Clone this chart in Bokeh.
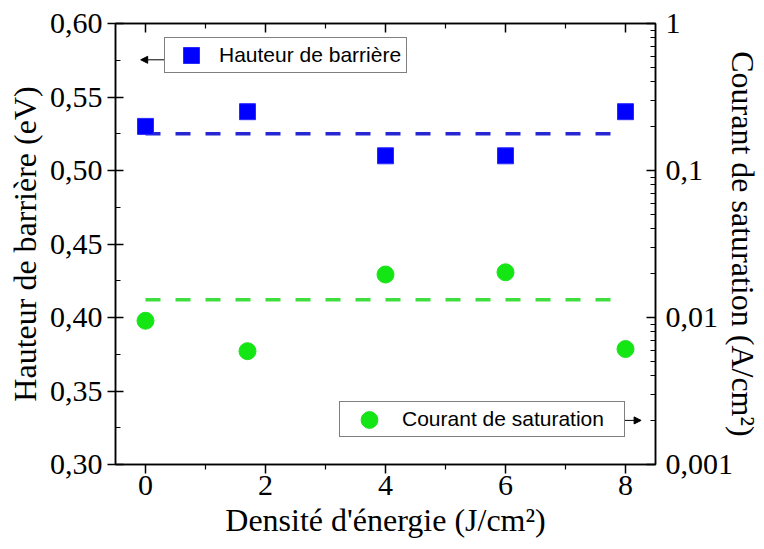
from bokeh.plotting import figure
from bokeh.models import (Range1d, LinearAxis, LogAxis, LogScale, FixedTicker, Legend,
                          LegendItem, Arrow, NormalHead)
from bokeh.embed import file_html
from bokeh.resources import INLINE

# ---- data ----
energy = [0, 1.7, 4, 6, 8]                               # J/cm²
barrier_height = [0.53, 0.54, 0.51, 0.51, 0.54]          # eV (left axis)
saturation_current = [0.0095, 0.0059, 0.0196, 0.0203, 0.0061]  # A/cm² (right log axis)
barrier_mean = 0.525
current_mean = 0.0132

x_ticks = [0, 2, 4, 6, 8]
x_minor = [1, 3, 5, 7]
left_ticks = [0.30, 0.35, 0.40, 0.45, 0.50, 0.55, 0.60]
left_labels = ["0,30", "0,35", "0,40", "0,45", "0,50", "0,55", "0,60"]
left_minor = [0.325, 0.375, 0.425, 0.475, 0.525, 0.575]
right_ticks = [0.001, 0.01, 0.1, 1]
right_labels = ["0,001", "0,01", "0,1", "1"]
right_minor = [m * d for d in (0.001, 0.01, 0.1) for m in range(2, 10)]

SERIF = "Liberation Serif"
SANS = "Liberation Sans"

p = figure(width=764, height=549, x_range=Range1d(-0.5, 8.5), y_range=Range1d(0.30, 0.60),
           output_backend="svg", toolbar_location=None,
           min_border_left=115, min_border_right=102, min_border_top=23, min_border_bottom=85)
p.extra_y_ranges = {"log": Range1d(0.001, 1)}
p.extra_y_scales = {"log": LogScale()}
p.grid.visible = False
p.outline_line_color = "black"
p.outline_line_width = 1.5
p.background_fill_color = "white"
p.border_fill_color = "white"

def style(ax):
    ax.axis_line_color = "black"
    ax.axis_line_width = 1.5
    ax.major_tick_line_width = 1.5
    ax.minor_tick_line_width = 1.2
    ax.major_tick_line_color = "black"
    ax.minor_tick_line_color = "black"
    ax.major_label_text_font = SERIF
    ax.major_label_text_font_size = "30px"
    ax.major_label_text_color = "black"
    ax.axis_label_text_font = SERIF
    ax.axis_label_text_font_size = "32px"
    ax.axis_label_text_font_style = "normal"
    ax.axis_label_text_color = "black"

# bottom axis
xa = p.xaxis[0]
style(xa)
xa.ticker = FixedTicker(ticks=x_ticks, minor_ticks=x_minor)
xa.axis_label = "Densité d'énergie (J/cm²)"
xa.major_tick_out = 9
xa.major_tick_in = 0
xa.minor_tick_out = 5
xa.minor_tick_in = 0
xa.major_label_standoff = 2
xa.axis_label_standoff = 4

# left axis
ya = p.yaxis[0]
style(ya)
ya.ticker = FixedTicker(ticks=left_ticks, minor_ticks=left_minor)
ya.major_label_overrides = dict(zip(left_ticks, left_labels))
ya.axis_label = "Hauteur de barrière (eV)"
ya.major_tick_out = 8
ya.major_tick_in = 8
ya.minor_tick_out = 0
ya.minor_tick_in = 5
ya.major_label_standoff = 5
ya.axis_label_standoff = 4

# top mirror axis (ticks only)
ta = LinearAxis(ticker=FixedTicker(ticks=x_ticks, minor_ticks=x_minor),
                major_label_overrides={t: "" for t in x_ticks})
style(ta)
ta.major_label_text_font_size = "0px"
ta.major_label_standoff = 0
ta.major_tick_in = 9
ta.major_tick_out = 0
ta.minor_tick_in = 5
ta.minor_tick_out = 0
p.add_layout(ta, "above")

# right log axis
ra = LogAxis(y_range_name="log", ticker=FixedTicker(ticks=right_ticks, minor_ticks=right_minor))
style(ra)
ra.major_label_overrides = dict(zip(right_ticks, right_labels))
ra.axis_label = "Courant de saturation (A/cm²)"
ra.major_tick_in = 9
ra.major_tick_out = 0
ra.minor_tick_in = 5
ra.minor_tick_out = 0
ra.major_label_standoff = 10
ra.axis_label_standoff = -11
p.add_layout(ra, "right")

# mean dashed lines
p.line([energy[0], energy[-1]], [barrier_mean, barrier_mean], line_color="#2626d2",
       line_width=3.5, line_dash="15 15")
p.line([energy[0], energy[-1]], [current_mean, current_mean], y_range_name="log",
       line_color="#3ede3e", line_width=3.5, line_dash="15 15")

# markers (screen-sized squares and circles)
sq = p.rect(energy, barrier_height, width=16, height=16, width_units="screen",
            height_units="screen", fill_color="#0000ff", line_color="#2a2aff", line_width=1)
ci = p.ellipse(energy, saturation_current, width=17, height=17, width_units="screen",
               height_units="screen", y_range_name="log",
               fill_color="#14e614", line_color="#20e020", line_width=1)

common = dict(border_line_color="black", border_line_width=1,
              background_fill_color="white", background_fill_alpha=1.0,
              padding=5, margin=0, spacing=0, label_height=20,
              label_text_font=SANS, label_text_font_size="21px", label_text_color="black")

leg1 = Legend(items=[LegendItem(label="Hauteur de barrière", renderers=[sq])],
              location=(49, 391), glyph_width=20, glyph_height=20,
              label_standoff=18, label_width=176,
              title=" ", title_location="left", title_text_font_size="10px",
              title_standoff=0, **common)
leg2 = Legend(items=[LegendItem(label="Courant de saturation", renderers=[ci])],
              location=(224, 27), glyph_width=48, glyph_height=21,
              label_standoff=9, label_width=217, **common)
p.add_layout(leg1)
p.add_layout(leg2)

# arrows pointing from each legend box to its axis
p.add_layout(Arrow(end=NormalHead(size=7, fill_color="black", line_color="black"),
                   x_start=0.31, y_start=0.5753, x_end=-0.08, y_end=0.5753,
                   line_color="black", line_width=1))
p.add_layout(Arrow(end=NormalHead(size=7, fill_color="black", line_color="black"),
                   x_start=7.85, y_start=0.33, x_end=8.26, y_end=0.33,
                   line_color="black", line_width=1))

open("out.html", "w").write(file_html(p, INLINE))
